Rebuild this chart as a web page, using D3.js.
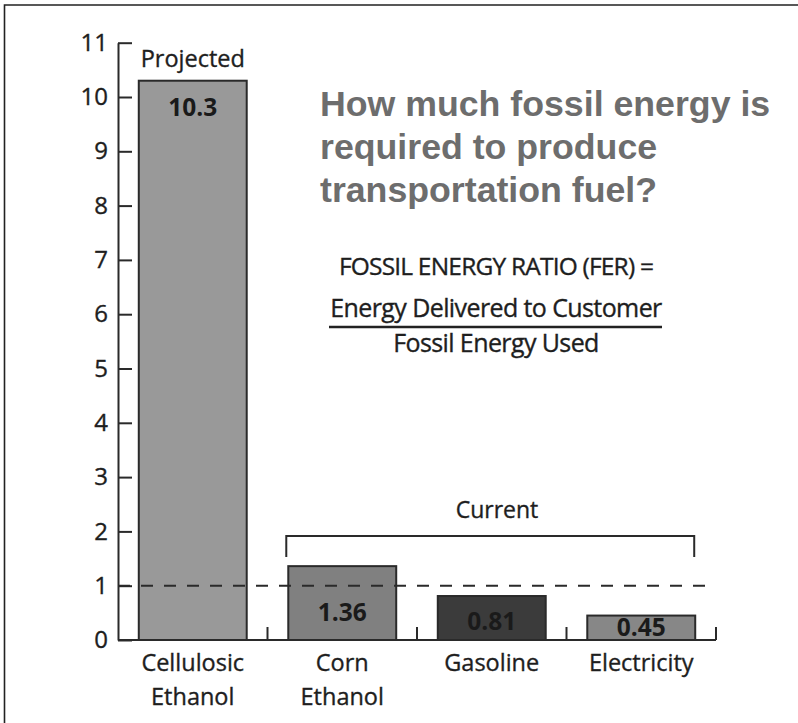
<!DOCTYPE html>
<html>
<head>
<meta charset="utf-8">
<script src="https://cdn.jsdelivr.net/npm/d3@7"></script>
<style>
  html, body { margin: 0; padding: 0; background: #ffffff; }
  svg { display: block; }
</style>
</head>
<body>
<script>
// ---- data ----
const categories = ["Cellulosic Ethanol", "Corn Ethanol", "Gasoline", "Electricity"];
const categoryLines = [["Cellulosic", "Ethanol"], ["Corn", "Ethanol"], ["Gasoline"], ["Electricity"]];
const values = [10.3, 1.36, 0.81, 0.45];
const valueLabels = ["10.3", "1.36", "0.81", "0.45"];
const yTicks = [0, 1, 2, 3, 4, 5, 6, 7, 8, 9, 10, 11];
const breakEven = 1;
const titleLines = ["How much fossil energy is", "required to produce", "transportation fuel?"];
const ferHeader = "FOSSIL ENERGY RATIO (FER) =";
const ferNumerator = "Energy Delivered to Customer";
const ferDenominator = "Fossil Energy Used";
const projectedLabel = "Projected";
const currentLabel = "Current";

// ---- styles ----
const fills = ["#999999", "#808080", "#3b3b3b", "#878787"];
const ink = "#2a2a2a";
const textInk = "#1e1e1e";
const humanist = "'Open Sans', 'Noto Sans', sans-serif";

const W = 798, H = 723;
const svg = d3.select("body").append("svg").attr("width", W).attr("height", H);

svg.append("rect").attr("width", W).attr("height", H).attr("fill", "#ffffff");
// outer frame (top & left visible)
svg.append("path").attr("d", `M4.5,${H + 5} V5 H${W + 5}`)
  .attr("fill", "none").attr("stroke", "#222").attr("stroke-width", 1.6);

function heavy(sel) {
  return sel.attr("stroke", textInk).attr("stroke-width", 0.35).attr("paint-order", "stroke");
}

const y = d3.scaleLinear().domain([0, 11]).range([640, 42.7]);
const x = d3.scaleBand().domain(categories).range([118, 716])
  .paddingInner(0.278).paddingOuter(0.139);
const half = (x.step() - x.bandwidth()) / 2;

// bars
svg.append("g").selectAll("rect").data(values).join("rect")
  .attr("x", (d, i) => x(categories[i]))
  .attr("y", d => y(d))
  .attr("width", x.bandwidth())
  .attr("height", d => y(0) - y(d))
  .attr("fill", (d, i) => fills[i])
  .attr("stroke", ink).attr("stroke-width", 2);

// y axis
const yAxis = d3.axisLeft(y).tickValues(yTicks).tickFormat(d3.format("d"))
  .tickSize(-14).tickSizeOuter(0).tickPadding(10);
const gy = svg.append("g").attr("transform", "translate(118,0)").call(yAxis);
gy.select(".domain").attr("stroke", ink).attr("stroke-width", 2);
gy.selectAll(".tick line").attr("stroke", ink).attr("stroke-width", 2);
heavy(gy.selectAll(".tick text").attr("font-family", humanist).attr("font-size", 24)
  .attr("fill", textInk));

// x baseline + separator ticks
svg.append("line").attr("x1", 118).attr("x2", x.range()[1])
  .attr("y1", y(0)).attr("y2", y(0)).attr("stroke", ink).attr("stroke-width", 2);
svg.append("g").selectAll("line").data(categories).join("line")
  .attr("x1", d => x(d) + x.bandwidth() + half)
  .attr("x2", d => x(d) + x.bandwidth() + half)
  .attr("y1", y(0)).attr("y2", y(0) - 13)
  .attr("stroke", ink).attr("stroke-width", 2);

// category labels
const cl = heavy(svg.append("g").selectAll("text").data(categories).join("text")
  .attr("text-anchor", "middle")
  .attr("font-family", humanist).attr("font-size", 23.5).attr("fill", textInk));
cl.each(function (d, i) {
  const t = d3.select(this);
  categoryLines[i].forEach((ln, j) => {
    t.append("tspan").attr("x", x(d) + x.bandwidth() / 2)
      .attr("y", 671 + j * 34).text(ln);
  });
});

// dashed break-even line (on top of bars)
svg.append("line").attr("x1", 118).attr("x2", 707)
  .attr("y1", y(breakEven)).attr("y2", y(breakEven))
  .attr("stroke", ink).attr("stroke-width", 2).attr("stroke-dasharray", "12,11");

// value labels
svg.append("g").selectAll("text").data(values).join("text")
  .attr("x", (d, i) => x(categories[i]) + x.bandwidth() / 2)
  .attr("y", (d, i) => {
    if (i === 0) return y(d) + 35;
    const h = y(0) - y(d);
    return y(0) - 2 - Math.max(0, 0.3 * (h - 18));
  })
  .attr("text-anchor", "middle")
  .attr("font-family", humanist).attr("font-weight", 700).attr("font-size", 24.5)
  .attr("fill", "#1a1a1a")
  .text((d, i) => valueLabels[i]);

// Projected label
heavy(svg.append("text")
  .attr("x", x(categories[0]) + x.bandwidth() / 2).attr("y", y(values[0]) - 14)
  .attr("text-anchor", "middle").attr("font-family", humanist).attr("font-size", 23.5)
  .attr("fill", textInk).text(projectedLabel));

// Current bracket
const bL = x(categories[1]) - 2, bR = x(categories[3]) + x.bandwidth() - 1;
const bTop = 536, bBot = 557;
svg.append("path").attr("d", `M${bL},${bBot} V${bTop} H${bR} V${bBot}`)
  .attr("fill", "none").attr("stroke", ink).attr("stroke-width", 2);
heavy(svg.append("text").attr("x", 497).attr("y", 518).attr("text-anchor", "middle")
  .attr("font-family", humanist).attr("font-size", 23).attr("fill", textInk)
  .text(currentLabel));

// Title
svg.append("g").selectAll("text").data(titleLines).join("text")
  .attr("x", 320).attr("y", (d, i) => 116 + i * 43)
  .attr("font-family", "'Liberation Sans', Arial, sans-serif").attr("font-weight", 700)
  .attr("font-size", 35.7).attr("fill", "#6d6d6d").text(d => d);

// FER formula
const fcx = 496;
heavy(svg.append("text").attr("x", fcx).attr("y", 275).attr("text-anchor", "middle")
  .attr("font-family", humanist).attr("font-size", 24.5).attr("letter-spacing", -0.8)
  .attr("fill", textInk).text(ferHeader));
heavy(svg.append("text").attr("x", fcx).attr("y", 317).attr("text-anchor", "middle")
  .attr("font-family", humanist).attr("font-size", 25).attr("letter-spacing", -0.6)
  .attr("fill", textInk).text(ferNumerator));
svg.append("line").attr("x1", 329).attr("x2", 662).attr("y1", 327).attr("y2", 327)
  .attr("stroke", "#222").attr("stroke-width", 2.5);
heavy(svg.append("text").attr("x", fcx).attr("y", 352).attr("text-anchor", "middle")
  .attr("font-family", humanist).attr("font-size", 25).attr("letter-spacing", -0.6)
  .attr("fill", textInk).text(ferDenominator));
</script>
</body>
</html>
